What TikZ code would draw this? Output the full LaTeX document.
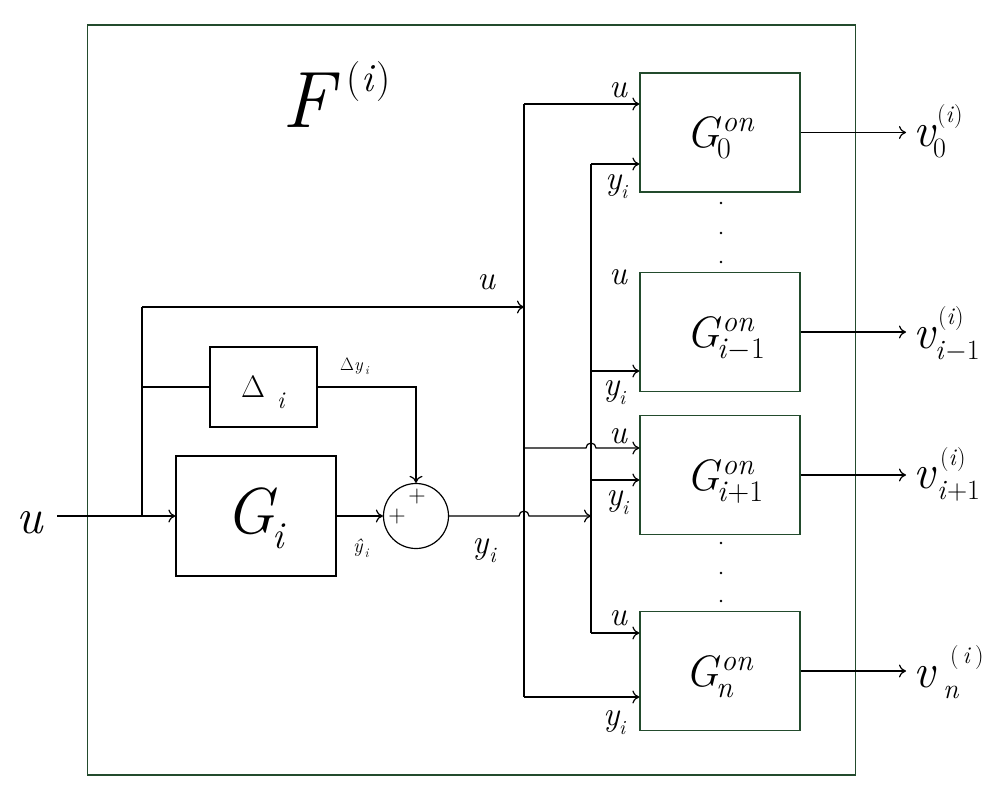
\RequirePackage{fix-cm}
\documentclass[tikz,border=0pt]{standalone}
\usetikzlibrary{arrows.meta,calc}
\definecolor{frameg}{RGB}{35,75,45}
\newcommand{\fs}[1]{\fontsize{#1}{#1}\selectfont}
\newcommand{\Gon}[1]{\rlap{\fs{44}\itshape G}\hspace{36pt}\rlap{\raisebox{16pt}{\fs{30}\itshape on}}\hspace{-5pt}\raisebox{-11pt}{\fs{30}#1}}
% #1 sub, #2 sub offset, #3 sup offset, #4 sup raise, #5 sup text
\newcommand{\Vlab}[5]{\rlap{\fs{48}\itshape v}\rlap{\hspace{#3}\raisebox{#4}{\fs{24}#5}}\hspace{#2}\raisebox{-11pt}{\fs{28}#1}}
\newcommand{\Ylab}{\rlap{\fs{34}\itshape y}\hspace{16pt}\raisebox{-9pt}{\fs{20}\itshape i}}
\begin{document}
\begin{tikzpicture}[x=1pt,y=-1pt,
  wire/.style={line width=1.2pt,black},
  arr/.style={-{Computer Modern Rightarrow[length=7pt,width=13pt,line width=1.2pt]}},
  blk/.style={draw=frameg,line width=1.2pt,minimum width=160pt,minimum height=119pt,inner sep=0pt},
  bblk/.style={draw=black,line width=1.2pt,inner sep=0pt},
  lab/.style={anchor=base west,inner sep=0pt},
  plus/.style={inner sep=0pt,font=\fs{24}}]
\useasboundingbox (0,0) rectangle (995,791);
\fill[white] (0,0) rectangle (995,791);
% frame
\node[draw=frameg,line width=1.2pt,minimum width=768pt,minimum height=750pt,inner sep=0pt] (frame) at (471.5,400) {};
\node[lab] (Flab) at (282,128) {\rlap{\fs{80}\itshape F}\hspace{64pt}\raisebox{36pt}{\fs{40}(\kern1pt\textit{i}\kern1pt)}};
% left blocks
\node[bblk,minimum width=160pt,minimum height=120pt] (Gi) at (256,516) {};
\node[bblk,minimum width=107pt,minimum height=80pt] (Delta) at (263.5,387) {};
\node[bblk,circle,minimum size=65pt] (sum) at (416,516) {};
\node[lab] (GiL) at (225,533) {\rlap{\fs{65}\itshape G}\hspace{47pt}\raisebox{-15pt}{\fs{38}\itshape i}};
\node[lab] (DeL) at (241,397) {\rlap{\fs{31}$\Delta$}\hspace{36pt}\raisebox{-11pt}{\fs{24}\itshape i}};
\node[plus] (p1) at (397,517) {+};
\node[plus] (p2) at (417,497) {+};
% right blocks
\node[blk] (G0) at (720,132.5) {};
\node[blk] (Gim1) at (720,332) {};
\node[blk] (Gip1) at (720,475) {};
\node[blk] (Gn) at (720,671) {};
\node[lab] (lG0) at (686,148) {\Gon{0}};
\node[lab] (lGim1) at (686,347) {\Gon{\textit{i}$-$1}};
\node[lab] (lGip1) at (686,490) {\Gon{\textit{i}+1}};
\node[lab] (lGn) at (685,686) {\Gon{\textit{n}}};
% coordinates
\coordinate (uin) at (57,516);
\coordinate (jA) at (142,516);
\coordinate (jTop) at (142,307);
\coordinate (Ltop) at (524,104);
\coordinate (Lbot) at (524,697);
\coordinate (Rtop) at (591,164);
\coordinate (Rbot) at (591,633);
\coordinate (r1) at (591,371);
\coordinate (r2) at (591,480);
\coordinate (l1) at (524,448);
\coordinate (vend) at (906,0);
% wires left
\draw[wire,arr] (uin) -- (Gi.west);
\draw[wire] (jA) -- (jTop);
\draw[wire,arr] (jTop) -- (Ltop |- jTop);
\draw[wire] (jA |- Delta.west) -- (Delta.west);
\draw[wire,arr] (Delta.east) -| (sum.north);
\draw[wire,arr] (Gi.east) -- (sum.west);
\draw[wire,arr] (sum.east) -- ($(Ltop |- sum.east)+(-5pt,0)$) arc[start angle=180,end angle=0,radius=5pt] -- (Rtop |- sum.east);
% buses
\draw[wire] (Ltop) -- (Lbot);
\draw[wire] (Rtop) -- (Rbot);
\draw[wire,arr] (Ltop) -- (Ltop -| G0.west);
\draw[wire,arr] (Rtop) -- (Rtop -| G0.west);
\draw[wire,arr] (r1) -- (r1 -| Gim1.west);
\draw[wire,arr] (l1) -- ($(Rtop |- l1)+(-5pt,0)$) arc[start angle=180,end angle=0,radius=5pt] -- (l1 -| Gip1.west);
\draw[wire,arr] (r2) -- (r2 -| Gip1.west);
\draw[wire,arr] (Rbot) -- (Rbot -| Gn.west);
\draw[wire,arr] (Lbot) -- (Lbot -| Gn.west);
% outputs
\draw[wire,arr] (G0.east) -- (G0.east -| vend);
\draw[wire,arr] (Gim1.east) -- (Gim1.east -| vend);
\draw[wire,arr] (Gip1.east) -- (Gip1.east -| vend);
\draw[wire,arr] (Gn.east) -- (Gn.east -| vend);
\node[lab] (v0) at (913,147) {\Vlab{0}{20pt}{24pt}{24pt}{(\textit{i})}};
\node[lab] (vim1) at (913,348) {\Vlab{\textit{i}$-$1}{22pt}{25pt}{24pt}{(\textit{i})}};
\node[lab] (vip1) at (913,488) {\Vlab{\textit{i}+1}{24pt}{27pt}{23pt}{(\textit{i})}};
\node[lab] (vn) at (913,687) {\Vlab{\textit{n}}{30pt}{37pt}{24pt}{(\,\textit{i}\,)}};
% dots
\foreach \yy in {203,233,262,543,573,601} \fill (721,\yy) circle[radius=1.4pt];
% labels
\node[lab] (uIn) at (16,533) {\fs{50}\itshape u};
\node[lab] (uTop) at (477,290) {\fs{34}\itshape u};
\node[lab] (u0) at (609,98) {\fs{34}\itshape u};
\node[lab] (u1) at (609,285) {\fs{34}\itshape u};
\node[lab] (u2) at (609,443) {\fs{34}\itshape u};
\node[lab] (u3) at (609,625) {\fs{34}\itshape u};
\node[lab] (y0) at (605,190) {\Ylab};
\node[lab] (y1) at (603,395) {\Ylab};
\node[lab] (y2) at (606,505) {\Ylab};
\node[lab] (y3) at (603,725) {\Ylab};
\node[lab] (yMain) at (472,553) {\rlap{\fs{34}\itshape y}\hspace{17pt}\raisebox{-9pt}{\fs{22}\itshape i}};
\node[lab] (dy) at (340,370) {\fs{18}$\Delta$\textit{y}\kern2pt\raisebox{-4pt}{\fs{12}\itshape i}};
\node[lab] (yhat) at (353,552) {\fs{20}\textit{\^y}\kern1pt\raisebox{-5pt}{\fs{13}\itshape i}};
\end{tikzpicture}
\end{document}
